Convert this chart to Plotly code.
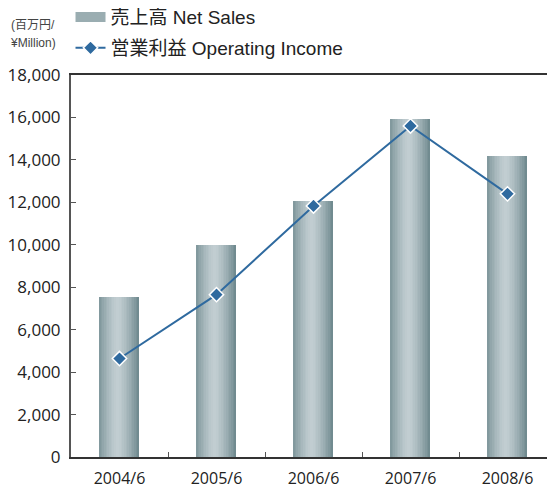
"""Net sales and operating income, 2004-2008."""

import plotly.graph_objects as go

PERIODS = ["2004/6", "2005/6", "2006/6", "2007/6", "2008/6"]
NET_SALES = [7540, 10000, 12060, 15910, 14170]
OPERATING_INCOME = [4640, 7650, 11830, 15600, 12400]
Y_TICKS = list(range(0, 18001, 2000))

SALES_NAME = "売上高 Net Sales"
INCOME_NAME = "営業利益 Operating Income"

LINE_COLOR = "#2f6a9f"
EDGE_RGB = (108, 135, 140)
MID_RGB = (194, 206, 210)
FONT = "Liberation Sans, Noto Sans CJK JP, sans-serif"
TICK_FONT = "Open Sans, Noto Sans, sans-serif"

BAR_WIDTH = 0.41
STRIPS = 24


def strip_color(i):
    # cylinder-like shading: dark edges, light band near the centre
    t = (i + 0.5) / STRIPS
    d = abs(t - 0.46) / 0.54
    k = min(d, 1.0) ** 1.4
    r, g, b = (round(m + (e - m) * k) for m, e in zip(MID_RGB, EDGE_RGB))
    return f"rgb({r},{g},{b})"


fig = go.Figure()

# bars are built from thin strips so they get a horizontal gradient
step = BAR_WIDTH / STRIPS
for i in range(STRIPS):
    fig.add_trace(go.Bar(
        x=PERIODS,
        y=NET_SALES,
        width=step * 1.05,
        offset=-BAR_WIDTH / 2 + i * step,
        marker=dict(color=strip_color(i), line=dict(width=0)),
        showlegend=False,
        hoverinfo="skip",
    ))

# legend swatch for the bars (wide rectangle like the original)
fig.add_trace(go.Scatter(
    x=[None], y=[None], mode="lines", name=SALES_NAME,
    line=dict(color="#9aadb1", width=12), legendgroup="a",
))

fig.add_trace(go.Scatter(
    x=PERIODS,
    y=OPERATING_INCOME,
    mode="lines+markers",
    name=INCOME_NAME,
    legendgroup="b",
    line=dict(color=LINE_COLOR, width=2),
    marker=dict(symbol="diamond", size=11, color=LINE_COLOR, line=dict(color="white", width=1.5)),
))

unit_font = dict(family=FONT, size=12, color="#444")
fig.add_annotation(text="(百万円/", xref="paper", yref="paper", x=-0.079, y=1.131,
                   xanchor="center", yanchor="middle", showarrow=False, font=unit_font)
fig.add_annotation(text="¥Million)", xref="paper", yref="paper", x=-0.079, y=1.084,
                   xanchor="center", yanchor="middle", showarrow=False, font=unit_font)

fig.update_layout(
    width=555,
    height=491,
    margin=dict(l=63, r=7, t=67, b=42, autoexpand=False),
    paper_bgcolor="white",
    plot_bgcolor="white",
    barmode="overlay",
    bargap=0,
    font=dict(family=FONT, color="#222"),
    legend=dict(
        x=-0.001, y=1.201, xanchor="left", yanchor="top",
        font=dict(family=FONT, size=19, color="#222"),
        traceorder="grouped", tracegroupgap=3, bgcolor="rgba(0,0,0,0)",
    ),
    xaxis=dict(
        range=[-0.5, 4.5],
        showgrid=False,
        showline=True, linecolor="#333", linewidth=2, mirror=True,
        ticks="inside", tickson="boundaries", ticklen=5, tickcolor="#555",
        tickfont=dict(family=TICK_FONT, size=16, color="#222"),
        ticklabelstandoff=6,
    ),
    yaxis=dict(
        range=[0, 18000],
        tickvals=Y_TICKS,
        tickformat=",d",
        showgrid=False, zeroline=False,
        showline=True, linecolor="#555", linewidth=2, mirror="ticks",
        ticks="inside", ticklen=5, tickcolor="#555",
        tickfont=dict(family=TICK_FONT, size=17, color="#222"),
        ticklabelstandoff=5,
    ),
)

fig.write_html("out.html")
